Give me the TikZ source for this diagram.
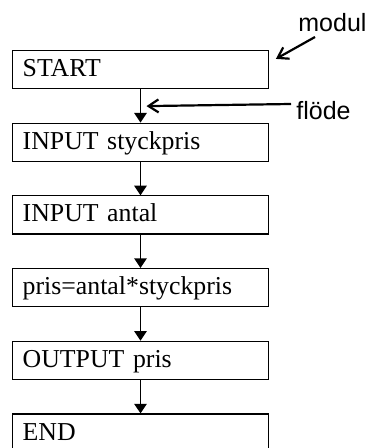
\documentclass[tikz,border=0pt]{standalone}
\usepackage{fontspec}
\setmainfont{Liberation Serif}
\newfontfamily\notefont{Liberation Sans}
\usetikzlibrary{arrows.meta,positioning}

\begin{document}
\begin{tikzpicture}[x=0.5pt, y=-0.5pt,
    modbox/.style={draw, line width=0.6pt, rectangle,
        text width=117.8pt, align=left, inner xsep=5pt, inner ysep=0pt,
        text height=13pt, text depth=6pt, font=\fontsize{12.9}{15}\selectfont},
    flow/.style={-{Triangle[length=4.8pt,width=6.2pt]}, line width=0.75pt},
    note/.style={inner sep=0pt, font=\notefont\fontsize{12.5}{15}\selectfont},
    pointer/.style={-{Straight Barb[length=5pt,width=6.5pt]}, line width=1.1pt}]
    \useasboundingbox (0,0) rectangle (367,448);
    \clip (0,0) rectangle (367,448);

    \foreach \i/\t in {1/START, 2/INPUT styckpris, 3/INPUT antal,
                       4/pris=antal*styckpris, 5/OUTPUT pris, 6/END}
        \node[modbox] (\i) at (140.5, 69.5+72.7*\i-72.7) {\t};

    \path[flow]
        (1) edge (2)
        (2) edge (3)
        (3) edge (4)
        (4) edge (5)
        (5) edge (6)
    ;

    %% labels to the right
    \node[note, anchor=base west] (modul) at (298,32) {modul};
    \node[note, anchor=base west] (flode) at (296,120) {flöde};

    \coordinate (mtip) at ([xshift=3.5pt,yshift=-4.5pt]1.north east);
    \coordinate (ftip) at ([xshift=3pt,yshift=-8.5pt]1.south);

    \draw[pointer] ([xshift=8.5pt,yshift=-2.5pt]modul.base west) -- (mtip);
    \draw[pointer] ([xshift=-2.5pt,yshift=8pt]flode.base west) -- (ftip);
\end{tikzpicture}
\end{document}
